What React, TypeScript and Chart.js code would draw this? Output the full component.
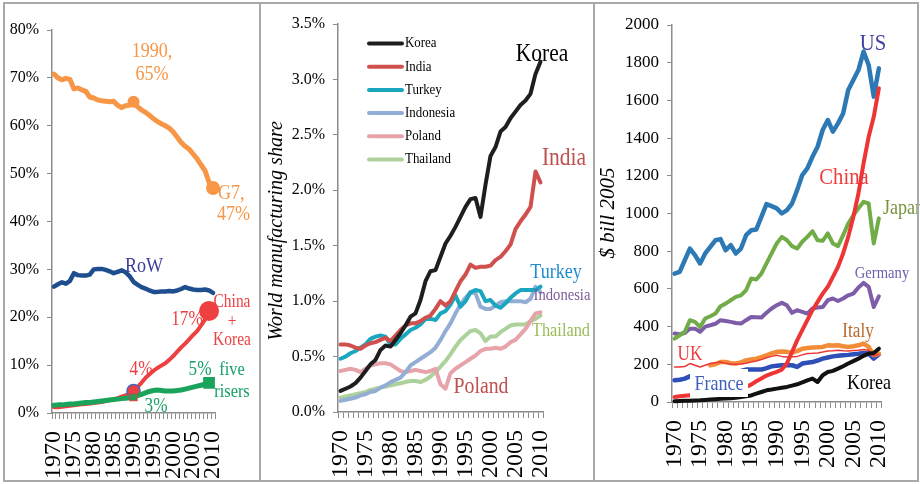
import React, { useEffect, useRef } from 'react';
import { Chart, registerables } from 'chart.js';

Chart.register(...registerables);

const SERIF = '"Liberation Serif", "Times New Roman", serif';
const AXIS = '#8C8C8C';

const years = [
  '1970', '1971', '1972', '1973', '1974', '1975', '1976', '1977', '1978', '1979',
  '1980', '1981', '1982', '1983', '1984', '1985', '1986', '1987', '1988', '1989',
  '1990', '1991', '1992', '1993', '1994', '1995', '1996', '1997', '1998', '1999',
  '2000', '2001', '2002', '2003', '2004', '2005', '2006', '2007', '2008', '2009', '2010',
];

// ---------- Panel 1: share of world manufacturing (%) ----------
const g7Share = [
  70.8, 70.0, 69.6, 69.9, 69.7, 67.7, 67.9, 67.5, 67.2, 66.0,
  65.8, 65.4, 65.2, 65.1, 65.0, 65.1, 64.3, 63.8, 64.2, 64.3,
  65.0, 64.0, 63.3, 62.8, 62.2, 61.5, 60.9, 60.4, 60.0, 59.5,
  58.7, 57.6, 56.5, 55.7, 55.1, 54.1, 53.1, 51.8, 50.6, 48.2, 47.0,
];
const rowShare = [
  26.4, 26.9, 27.3, 27.0, 27.6, 29.2, 28.8, 28.7, 28.7, 28.9,
  30.0, 30.1, 30.1, 29.9, 29.6, 29.2, 29.5, 29.8, 29.4, 28.6,
  27.4, 26.8, 26.3, 26.0, 25.6, 25.3, 25.3, 25.4, 25.4, 25.5,
  25.4, 25.6, 25.9, 26.3, 26.0, 25.8, 25.7, 25.7, 25.8, 25.6, 25.1,
];
const chinaKoreaShare = [
  1.2, 1.2, 1.3, 1.4, 1.5, 1.6, 1.7, 1.8, 1.9, 2.0,
  2.1, 2.2, 2.3, 2.5, 2.7, 2.9, 3.1, 3.4, 3.7, 4.1,
  4.6, 5.4, 6.3, 7.3, 8.1, 8.8, 9.4, 9.9, 10.4, 11.1,
  11.9, 12.8, 13.7, 14.5, 15.4, 16.3, 17.1, 18.3, 19.5, 21.3, null,
];
const fiveRisersShare = [
  1.6, 1.7, 1.7, 1.8, 1.9, 1.9, 2.0, 2.1, 2.2, 2.2,
  2.3, 2.4, 2.5, 2.6, 2.7, 2.8, 2.9, 3.0, 3.1, 3.2,
  3.3, 3.6, 3.9, 4.2, 4.5, 4.7, 4.8, 4.7, 4.6, 4.6,
  4.6, 4.7, 4.8, 5.0, 5.2, 5.4, 5.6, 5.8, 6.0, 6.3, null,
];

// ---------- Panel 2: world manufacturing share (%) ----------
const koreaShare = [
  0.19, 0.21, 0.23, 0.26, 0.31, 0.37, 0.43, 0.47, 0.56, 0.60,
  0.59, 0.65, 0.71, 0.78, 0.86, 0.89, 1.01, 1.18, 1.27, 1.28,
  1.40, 1.52, 1.59, 1.67, 1.76, 1.85, 1.92, 1.93, 1.76, 2.05,
  2.31, 2.39, 2.53, 2.57, 2.65, 2.71, 2.77, 2.81, 2.87, 3.05, 3.16,
];
const indiaShare = [
  0.61, 0.61, 0.60, 0.58, 0.57, 0.60, 0.62, 0.63, 0.65, 0.67,
  0.64, 0.69, 0.74, 0.78, 0.80, 0.80, 0.82, 0.85, 0.87, 0.93,
  1.00, 0.96, 1.00, 1.09, 1.18, 1.24, 1.33, 1.30, 1.31, 1.31,
  1.32, 1.37, 1.40, 1.45, 1.51, 1.65, 1.72, 1.78, 1.85, 2.17, 2.07,
];
const turkeyShare = [
  0.48, 0.50, 0.53, 0.55, 0.58, 0.61, 0.66, 0.68, 0.69, 0.68,
  0.61, 0.61, 0.66, 0.70, 0.74, 0.76, 0.79, 0.84, 0.84, 0.83,
  0.89, 0.91, 0.97, 1.05, 0.95, 1.00, 1.08, 1.10, 1.09, 1.00,
  1.01, 0.96, 0.94, 0.98, 1.03, 1.07, 1.10, 1.10, 1.10, 1.10, 1.13,
];
const indonesiaShare = [
  0.10, 0.11, 0.12, 0.13, 0.15, 0.16, 0.18, 0.19, 0.22, 0.24,
  0.27, 0.29, 0.31, 0.36, 0.42, 0.45, 0.48, 0.51, 0.54, 0.58,
  0.65, 0.73, 0.80, 0.89, 0.97, 1.03, 1.08, 1.07, 0.95, 0.93,
  0.93, 0.96, 0.99, 1.00, 1.00, 1.00, 1.00, 0.99, 1.02, 1.13, 1.08,
];
const polandShare = [
  0.37, 0.38, 0.39, 0.38, 0.36, 0.39, 0.42, 0.43, 0.44, 0.44,
  0.43, 0.40, 0.37, 0.36, 0.37, 0.38, 0.37, 0.36, 0.37, 0.39,
  0.25, 0.21, 0.35, 0.39, 0.42, 0.45, 0.48, 0.51, 0.55, 0.57,
  0.57, 0.58, 0.57, 0.59, 0.63, 0.65, 0.70, 0.75, 0.82, 0.89, 0.90,
];
const thailandShare = [
  0.13, 0.14, 0.15, 0.16, 0.17, 0.18, 0.20, 0.21, 0.22, 0.23,
  0.24, 0.25, 0.26, 0.27, 0.28, 0.28, 0.27, 0.29, 0.32, 0.36,
  0.41, 0.46, 0.52, 0.59, 0.65, 0.69, 0.73, 0.74, 0.71, 0.64,
  0.68, 0.68, 0.72, 0.75, 0.78, 0.79, 0.79, 0.79, 0.82, 0.84, 0.87,
];

// ---------- Panel 3: manufacturing value added, $ bill 2005 ----------
const usBn = [
  681, 690, 752, 814, 779, 735, 788, 823, 858, 864,
  805, 832, 788, 814, 885, 911, 915, 982, 1050, 1039,
  1027, 1000, 1018, 1053, 1124, 1204, 1239, 1301, 1354, 1443,
  1496, 1434, 1478, 1531, 1655, 1708, 1761, 1859, 1788, 1620, 1770,
];
const chinaBn = [
  27, 30, 33, 36, 39, 42, 45, 48, 53, 57,
  61, 65, 69, 74, 80, 92, 110, 125, 140, 150,
  160, 172, 205, 265, 327, 381, 434, 487, 531, 575,
  611, 664, 717, 788, 876, 982, 1106, 1266, 1407, 1513, 1664,
];
const japanBn = [
  336, 354, 372, 434, 425, 398, 443, 455, 469, 508,
  522, 540, 558, 566, 593, 655, 650, 681, 735, 788,
  841, 876, 858, 827, 814, 850, 876, 906, 858, 855,
  894, 841, 827, 885, 947, 991, 1027, 1062, 1053, 841, 974,
];
const germanyBn = [
  363, 360, 366, 389, 389, 372, 400, 407, 415, 434,
  430, 425, 419, 416, 434, 451, 450, 448, 473, 496,
  513, 526, 513, 473, 487, 478, 469, 496, 501, 504,
  540, 549, 536, 549, 566, 575, 607, 632, 611, 504, 561,
];
const italyBn = [
  null, null, null, null, null, null, null, 195, 200, 212,
  212, 206, 204, 210, 221, 226, 230, 238, 248, 258,
  266, 268, 266, 262, 270, 283, 286, 289, 290, 292,
  301, 300, 301, 296, 292, 296, 301, 310, 292, 248, 257,
];
const ukBn = [
  186, 186, 188, 204, 195, 186, 195, 204, 208, 212,
  205, 200, 200, 202, 206, 212, 218, 225, 235, 242,
  248, 242, 239, 240, 242, 250, 257, 258, 260, 265,
  271, 272, 274, 272, 271, 273, 274, 278, 274, 242, 253,
];
const franceBn = [
  115, 118, 124, 136, 138, 140, 145, 150, 152, 156,
  160, 160, 162, 165, 172, 172, 172, 172, 180, 189,
  192, 195, 195, 195, 186, 204, 208, 212, 220, 230,
  236, 242, 245, 248, 250, 253, 256, 260, 257, 230, 253,
];
const koreaBn = [
  4, 5, 6, 7, 8, 9, 11, 13, 15, 17,
  18, 20, 23, 27, 31, 35, 44, 53, 62, 66,
  71, 76, 80, 87, 94, 104, 115, 124, 106, 142,
  159, 165, 177, 190, 204, 217, 230, 245, 257, 260, 283,
];

// ---------- helpers ----------
const at = (m: Record<number, any>, d: any) => years.map((_, i) => (i in m ? m[i] : d));

type Note = { t: string; x: number; y: number; c: string; s: number; a?: CanvasTextAlign; it?: boolean; rot?: boolean };

function notesPlugin(notes: Note[], extra?: (ctx: CanvasRenderingContext2D, chart: any) => void) {
  return {
    id: 'notes',
    afterDatasetsDraw(chart: any) {
      const ctx: CanvasRenderingContext2D = chart.ctx;
      ctx.save();
      if (extra) extra(ctx, chart);
      for (const n of notes) {
        ctx.save();
        ctx.font = `${n.it ? 'italic ' : ''}${n.s}px ${SERIF}`;
        ctx.fillStyle = n.c;
        ctx.textAlign = n.a || 'center';
        ctx.textBaseline = 'middle';
        ctx.translate(n.x, n.y);
        if (n.rot) ctx.rotate(-Math.PI / 2);
        else ctx.scale(0.86, 1);
        ctx.fillText(n.t, 0, 0);
        ctx.restore();
      }
      ctx.restore();
    },
  };
}

function line(label: string, data: any[], color: string, width: number, extra: any = {}) {
  return {
    label, data, borderColor: color, backgroundColor: color, borderWidth: width,
    pointRadius: 0, pointHoverRadius: 0, tension: 0, borderJoinStyle: 'round', borderCapStyle: 'round',
    clip: false, ...extra,
  };
}

function options(p: { left: number; right: number; top: number; yW: number; xH: number; min: number; max: number; step: number; fmt: (v: number) => string; ySize: number }) {
  return {
    responsive: false,
    animation: false,
    events: [],
    layout: { padding: { left: p.left, right: 920 - p.right, top: p.top, bottom: 4 } },
    plugins: { legend: { display: false }, tooltip: { enabled: false }, title: { display: false } },
    scales: {
      x: {
        type: 'category',
        offset: true,
        grid: { offset: true, drawOnChartArea: false, drawTicks: true, tickLength: 6, color: AXIS, lineWidth: 1 },
        border: { display: true, color: AXIS, width: 1.5 },
        ticks: {
          autoSkip: false, minRotation: 90, maxRotation: 90, padding: 12, color: '#000',
          font: { family: SERIF, size: 24 },
          callback: (_v: any, i: number) => (Number(years[i]) % 5 === 0 ? years[i] : ''),
        },
        afterFit: (s: any) => { s.height = p.xH; },
      },
      y: {
        type: 'linear', min: p.min, max: p.max,
        grid: { drawOnChartArea: false, drawTicks: true, tickLength: 5, color: AXIS, lineWidth: 1 },
        border: { display: true, color: AXIS, width: 1.5 },
        ticks: { stepSize: p.step, padding: 8, color: '#000', font: { family: SERIF, size: p.ySize }, callback: (v: any) => p.fmt(Number(v)) },
        afterFit: (s: any) => { s.width = p.yW; },
      },
    },
  };
}

// colours
const ORANGE = '#F79646';
const NAVY = '#1F4E8F';
const RED = '#EE4040';
const GREEN = '#1AA35A';

function cfg1(): any {
  const notes: Note[] = [
    { t: '1990,', x: 152, y: 51, c: ORANGE, s: 21 },
    { t: '65%', x: 152, y: 74, c: ORANGE, s: 21 },
    { t: 'G7,', x: 218, y: 193, c: ORANGE, s: 21, a: 'left' },
    { t: '47%', x: 217, y: 214, c: ORANGE, s: 21, a: 'left' },
    { t: 'RoW', x: 144, y: 266, c: '#3D3D9E', s: 21 },
    { t: 'China', x: 232, y: 302, c: RED, s: 18 },
    { t: '+', x: 232, y: 322, c: RED, s: 18 },
    { t: 'Korea', x: 232, y: 340, c: RED, s: 18 },
    { t: '17%', x: 187, y: 320, c: RED, s: 20 },
    { t: '4%', x: 141, y: 370, c: RED, s: 20 },
    { t: '5%', x: 200, y: 370, c: '#17A065', s: 20 },
    { t: 'five', x: 232, y: 370, c: '#17A065', s: 19 },
    { t: 'risers', x: 232, y: 392, c: '#17A065', s: 19 },
    { t: '3%', x: 156, y: 407, c: '#17A065', s: 20 },
  ];
  return {
    type: 'line',
    data: {
      labels: years,
      datasets: [
        line('five risers', fiveRisersShare, GREEN, 5, {
          pointStyle: 'rect', pointRadius: at({ 20: 5, 39: 8.3 }, 0), pointBackgroundColor: GREEN,
          pointBorderColor: at({ 20: '#E0403C' }, GREEN), pointBorderWidth: at({ 20: 1.2 }, 0),
        }),
        line('China + Korea', chinaKoreaShare, RED, 4, {
          pointRadius: at({ 20: 6.5, 39: 10 }, 0), pointBackgroundColor: RED,
          pointBorderColor: at({ 20: '#4466B8' }, RED), pointBorderWidth: at({ 20: 1.5 }, 0),
        }),
        line('G7', g7Share, ORANGE, 5, { pointRadius: at({ 20: 6, 40: 7 }, 0), pointBackgroundColor: ORANGE, pointBorderWidth: 0 }),
        line('RoW', rowShare, NAVY, 4.5),
      ],
    },
    options: options({ left: 4, right: 215, top: 30, yW: 48, xH: 67, min: 0, max: 80, step: 10, fmt: (v) => `${v}%`, ySize: 16 }),
    plugins: [notesPlugin(notes)],
  };
}

const P2 = { korea: '#1E1E1E', india: '#D0504D', turkey: '#1AA6BF', indonesia: '#93AED4', poland: '#E6A4AA', thailand: '#ADD19B' };

function cfg2(): any {
  const notes: Note[] = [
    { t: 'Korea', x: 542, y: 54, c: '#000', s: 25 },
    { t: 'India', x: 564, y: 158, c: '#C0504D', s: 25 },
    { t: 'Turkey', x: 556, y: 272, c: '#1E8BCF', s: 21 },
    { t: 'Indonesia', x: 562, y: 296, c: '#7E5C98', s: 17 },
    { t: 'Thailand', x: 561, y: 331, c: '#9BBB59', s: 19 },
    { t: 'Poland', x: 481, y: 387, c: '#C0504D', s: 23 },
    { t: 'World manufacturing share', x: 277, y: 231, c: '#000', s: 20, it: true, rot: true },
  ];
  const legend = (ctx: CanvasRenderingContext2D, chart: any) => {
    chart.data.datasets.forEach((d: any, i: number) => {
      const y = 43.5 + i * 23.2;
      ctx.strokeStyle = d.borderColor;
      ctx.lineWidth = 4;
      ctx.lineCap = 'round';
      ctx.beginPath();
      ctx.moveTo(369, y);
      ctx.lineTo(402, y);
      ctx.stroke();
      ctx.save();
      ctx.font = `15px ${SERIF}`;
      ctx.fillStyle = '#000';
      ctx.textAlign = 'left';
      ctx.textBaseline = 'middle';
      ctx.translate(405, y);
      ctx.scale(0.86, 1);
      ctx.fillText(d.label, 0, 0);
      ctx.restore();
    });
  };
  return {
    type: 'line',
    data: {
      labels: years,
      datasets: [
        line('Korea', koreaShare, P2.korea, 4),
        line('India', indiaShare, P2.india, 4),
        line('Turkey', turkeyShare, P2.turkey, 4),
        line('Indonesia', indonesiaShare, P2.indonesia, 4),
        line('Poland', polandShare, P2.poland, 4),
        line('Thailand', thailandShare, P2.thailand, 4),
      ],
    },
    options: options({ left: 262, right: 543, top: 24, yW: 76, xH: 68, min: 0, max: 3.5, step: 0.5, fmt: (v) => `${v.toFixed(1)}%`, ySize: 16 }),
    plugins: [notesPlugin(notes, legend)],
  };
}

function cfg3(): any {
  const notes: Note[] = [
    { t: 'US', x: 873, y: 44, c: '#3F3F9F', s: 24 },
    { t: 'China', x: 844, y: 178, c: '#EE3B3B', s: 24 },
    { t: 'Japan', x: 883, y: 208, c: '#76923C', s: 21, a: 'left' },
    { t: 'Germany', x: 882, y: 274, c: '#6E5FAE', s: 17 },
    { t: 'Italy', x: 858, y: 332, c: '#B8692E', s: 20 },
    { t: 'UK', x: 690, y: 355, c: '#EE3B3B', s: 20 },
    { t: 'France', x: 719, y: 384, c: '#3F5FBF', s: 21 },
    { t: 'Korea', x: 869, y: 383, c: '#000', s: 21 },
    { t: '$ bill 2005', x: 608, y: 213, c: '#000', s: 21, it: true, rot: true },
  ];
  const box = (ctx: CanvasRenderingContext2D) => {
    ctx.fillStyle = '#FFFFFF';
    ctx.fillRect(690, 369, 58, 28);
  };
  return {
    type: 'line',
    data: {
      labels: years,
      datasets: [
        line('Korea', koreaBn, '#111111', 4),
        line('China', chinaBn, '#EE3535', 4),
        line('US', usBn, '#2D79B5', 4.5),
        line('Japan', japanBn, '#72AC48', 4),
        line('Germany', germanyBn, '#7E5DA8', 4),
        line('UK', ukBn, '#EE3535', 1.5),
        line('Italy', italyBn, '#F28C38', 4.5),
        line('France', franceBn, '#2F4FB8', 4.5),
      ],
    },
    options: options({ left: 596, right: 893, top: 25, yW: 76, xH: 78, min: 0, max: 2000, step: 200, fmt: (v) => `${v}`, ySize: 17 }),
    plugins: [notesPlugin(notes, box)],
  };
}

export default function App() {
  const r1 = useRef<HTMLCanvasElement>(null);
  const r2 = useRef<HTMLCanvasElement>(null);
  const r3 = useRef<HTMLCanvasElement>(null);
  useEffect(() => {
    const charts = [new Chart(r1.current!, cfg1()), new Chart(r2.current!, cfg2()), new Chart(r3.current!, cfg3())];
    return () => charts.forEach((c) => c.destroy());
  }, []);
  const cv: React.CSSProperties = { position: 'absolute', left: 0, top: 0, width: 920, height: 484 };
  const bx = (left: number, width: number): React.CSSProperties => ({
    position: 'absolute', left, top: 2, width, height: 480, border: '2px solid #A9A9A9', boxSizing: 'border-box', pointerEvents: 'none',
  });
  return (
    <div style={{ position: 'absolute', left: 0, top: 0, width: 920, height: 484, background: '#fff', overflow: 'hidden' }}>
      <canvas ref={r1} width={920} height={484} style={cv} />
      <canvas ref={r2} width={920} height={484} style={cv} />
      <canvas ref={r3} width={920} height={484} style={cv} />
      <div style={bx(3, 258)} />
      <div style={bx(259, 336)} />
      <div style={bx(593, 326)} />
    </div>
  );
}
